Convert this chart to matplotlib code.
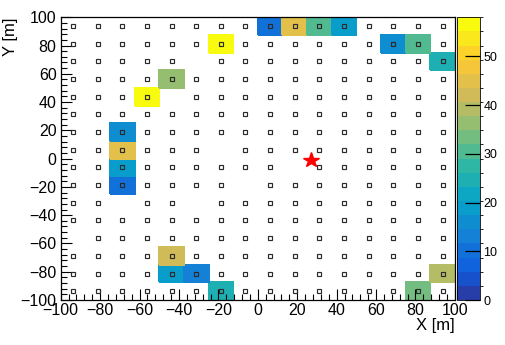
import numpy as np
import matplotlib
matplotlib.use("Agg")
from matplotlib import pyplot as plt
from matplotlib.colors import LinearSegmentedColormap, ListedColormap, BoundaryNorm

plt.rcParams['font.family'] = ['Liberation Sans', 'DejaVu Sans']

# 16 x 16 grid, 12.5 m cells
bin_edges = np.linspace(-100, 100, 17)
bin_centers = 0.5 * (bin_edges[:-1] + bin_edges[1:])

# filled cells: centre x, centre y, content
hit_x = [6.25, 18.75, 31.25, 43.75, -18.75, 68.75, 81.25, 93.75, -43.75, -56.25,
         -68.75, -68.75, -68.75, -68.75, -43.75, -43.75, -31.25, 93.75, -18.75, 81.25]
hit_y = [93.75, 93.75, 93.75, 93.75, 81.25, 81.25, 81.25, 68.75, 56.25, 43.75,
         18.75, 6.25, -6.25, -18.75, -68.75, -81.25, -81.25, -81.25, -93.75, -93.75]
hit_val = [10, 45, 31, 19, 57, 15, 31, 25, 37, 57,
           15, 45, 19, 10, 43, 19, 13, 40, 25, 34]

# grid points without a station marker
missing_x = [-31.25, -43.75, -18.75, 18.75, -6.25, -68.75, -31.25, -93.75]
missing_y = [68.75, 43.75, 6.25, -6.25, -18.75, -31.25, -31.25, -56.25]

# source position
src_x, src_y = 27.0, -0.8

z_max = 58.0
n_levels = 20

# ROOT kBird palette
stops = [0.0, 0.125, 0.25, 0.375, 0.5, 0.625, 0.75, 0.875, 1.0]
red = [0.2082, 0.0592, 0.0780, 0.0232, 0.1802, 0.5301, 0.8186, 0.9956, 0.9764]
green = [0.1664, 0.3599, 0.5041, 0.6419, 0.7178, 0.7492, 0.7328, 0.7862, 0.9832]
blue = [0.5293, 0.8684, 0.8385, 0.7914, 0.6425, 0.4662, 0.3499, 0.1968, 0.0539]
bird = LinearSegmentedColormap.from_list(
    "bird", list(zip(stops, zip(red, green, blue))), N=255)
cmap = ListedColormap([bird(min((k + 0.99) / n_levels, 1.0)) for k in range(n_levels)])
norm = BoundaryNorm(np.linspace(0, z_max, n_levels + 1), n_levels)

grid = np.full((16, 16), np.nan)
for x, y, v in zip(hit_x, hit_y, hit_val):
    ix = np.searchsorted(bin_edges, x) - 1
    iy = np.searchsorted(bin_edges, y) - 1
    grid[iy, ix] = v
grid = np.ma.masked_invalid(grid)

fig = plt.figure(figsize=(5.06, 3.45), dpi=100)
ax = fig.add_axes([0.12, 0.1304, 0.779, 0.8196])
cax = fig.add_axes([0.904, 0.1304, 0.0455, 0.8196])

mesh = ax.pcolormesh(bin_edges, bin_edges, grid, cmap=cmap, norm=norm,
                     edgecolors='face', linewidth=0.3)

gx, gy = np.meshgrid(bin_centers, bin_centers)
gx, gy = gx.ravel(), gy.ravel()
keep = np.ones(gx.size, dtype=bool)
for mx, my in zip(missing_x, missing_y):
    keep &= ~(np.isclose(gx, mx) & np.isclose(gy, my))
ax.plot(gx[keep], gy[keep], linestyle='none', marker='s', ms=2.6,
        mfc='none', mec='#2a2a2a', mew=0.85)

ax.plot([src_x], [src_y], linestyle='none', marker='*', ms=11.5,
        color='red', mec='red')

ax.set_xlim(-100, 100)
ax.set_ylim(-100, 100)
ax.set_xticks(np.arange(-100, 101, 20))
ax.set_yticks(np.arange(-100, 101, 20))
ax.set_xticks(np.arange(-100, 101, 4), minor=True)
ax.set_yticks(np.arange(-100, 101, 4), minor=True)
ax.tick_params(which='both', direction='in', top=False, right=False,
               labelsize=11.5, width=0.8)
ax.tick_params(which='major', length=8)
ax.tick_params(which='minor', length=4)
ax.tick_params(axis='x', pad=2)
ax.tick_params(axis='y', pad=3)
for side in ax.spines.values():
    side.set_linewidth(0.9)

ax.set_xlabel('X [m]', fontsize=12, loc='right', labelpad=0)
ax.set_ylabel('Y [m]', fontsize=12, loc='top')
ax.yaxis.set_label_coords(-0.108, 1.0)

cb = fig.colorbar(mesh, cax=cax)
cb.outline.set_linewidth(0.6)
cb.set_ticks([0, 10, 20, 30, 40, 50])
cax.tick_params(direction='in', length=11, width=0.9, labelsize=9, pad=2)

fig.savefig('out.png', dpi=100)
